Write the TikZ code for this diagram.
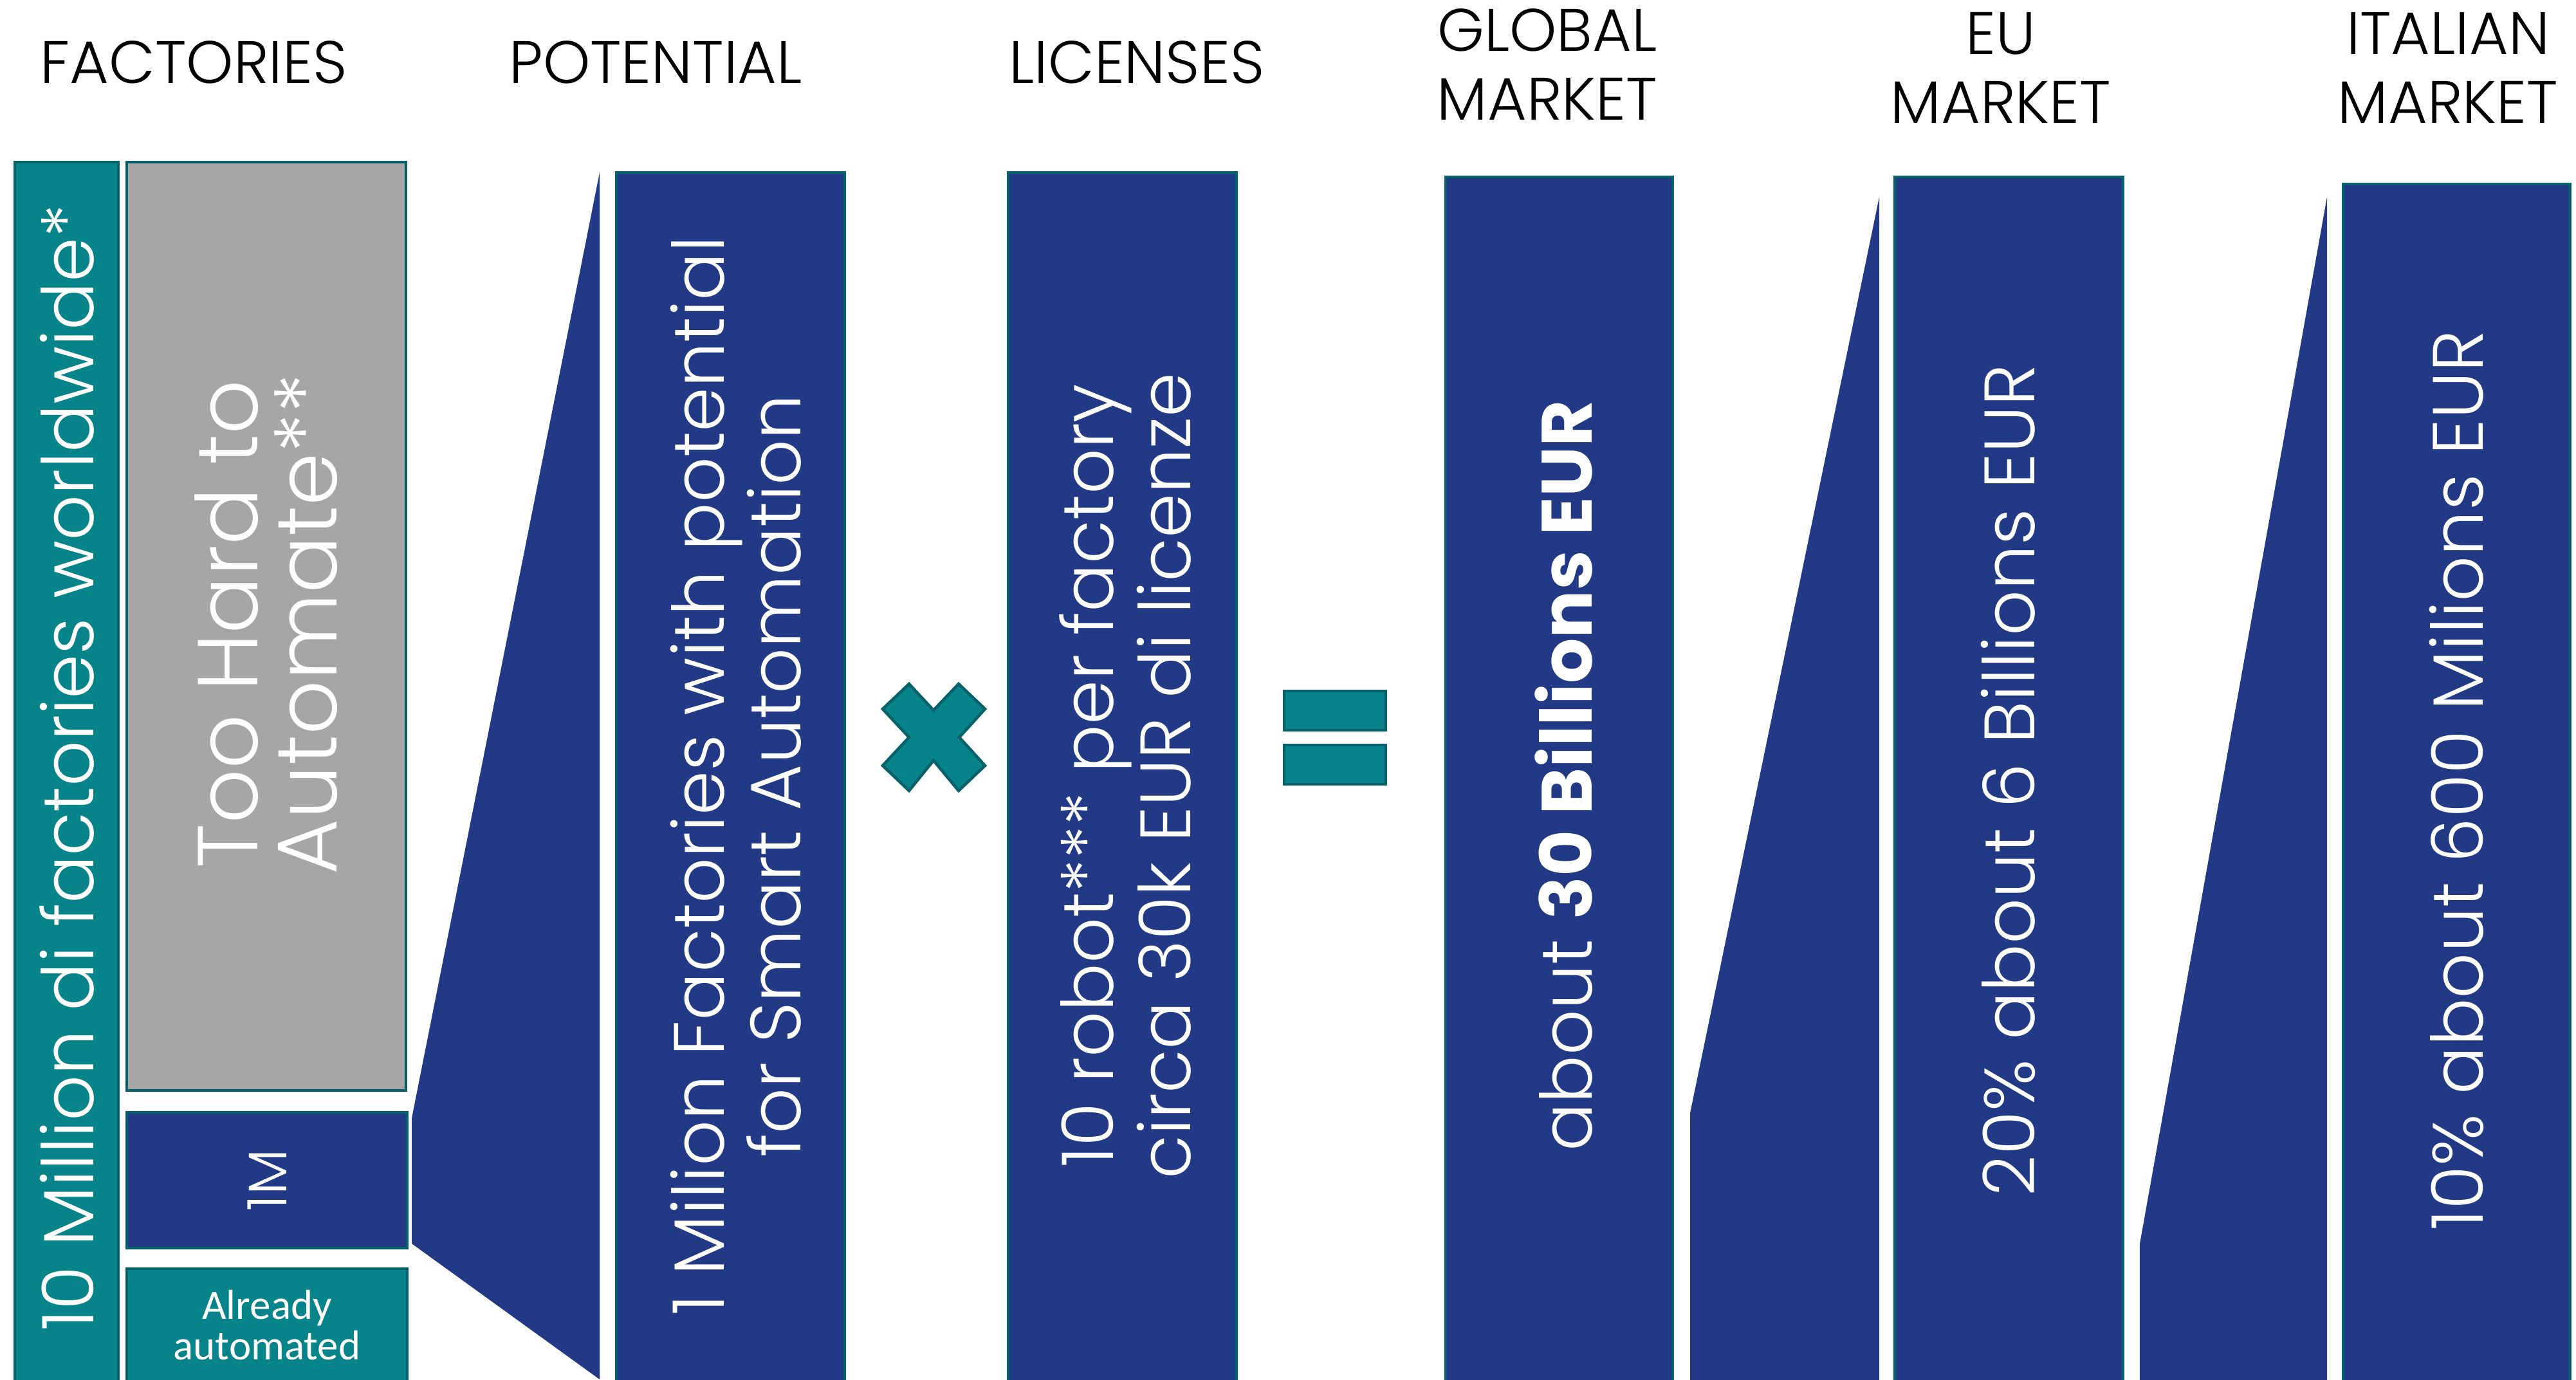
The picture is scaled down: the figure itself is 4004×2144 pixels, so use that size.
\documentclass[tikz,border=0pt]{standalone}
\usepackage{fontspec}
\setmainfont{Poppins Light}[BoldFont={Poppins Bold}]
\newfontfamily\carlito{Carlito}
\usepackage{tikz}
\usetikzlibrary{fit}
\definecolor{tealbox}{HTML}{07838A}
\definecolor{tealline}{HTML}{05616A}
\definecolor{navybox}{HTML}{223985}
\definecolor{greybox}{HTML}{A6A6A6}

\begin{document}
\begin{tikzpicture}[x=0.01cm, y=-0.01cm,
  box/.style={draw=tealline, line width=1.3pt, inner sep=0pt},
  txt/.style={text=white, align=center, rotate=90, font=\fontsize{31.5}{34}\selectfont},
  head/.style={align=center, font=\fontsize{26.5}{30.4}\selectfont}]
\useasboundingbox (0,0) rectangle (4004,2144);
% column titles
\node[head] (hfac) at (301,97) {FACTORIES};
\node[head] (hpot) at (1019,97) {POTENTIAL};
\node[head] (hlic) at (1767,97) {LICENSES};
\node[head] (hglo) at (2405,100) {GLOBAL\\MARKET};
\node[head] (heu) at (3110,105) {EU\\MARKET};
\node[head] (hita) at (3805,105) {ITALIAN\\MARKET};
% factories
\node[box, fill=tealbox, fit={(23,252) (184,2160)}] (fact) {};
\node[txt] (tfact) at (104,1193) {10 Million di factories worldwide*};
\node[box, fill=greybox, fit={(197,252) (631,1695)}] (hard) {};
\node[txt, font=\fontsize{37.6}{35}\selectfont] (thard) at (414,970) {Too Hard to\\Automate**};
\node[box, fill=navybox, fit={(197,1729) (633,1940)}] (onem) {};
\node[txt, font=\fontsize{24}{28}\selectfont] (tonem) at (onem) {1M};
\node[box, fill=tealbox, fit={(197,1972) (633,2160)}] (auto) {};
\node[text=white, align=center, font=\carlito\fontsize{18.5}{17.9}\selectfont] (tauto) at (415,2060) {Already\\automated};
% funnels
\fill[navybox] (640,1738) -- (932,268) -- (932,2144) -- (640,1933) -- cycle;
\fill[navybox] (2627,1730) -- (2921,306) -- (2921,2160) -- (2627,2160) -- cycle;
\fill[navybox] (3326,1933) -- (3617,306) -- (3617,2160) -- (3326,2160) -- cycle;
% potential
\node[box, fill=navybox, fit={(958,268) (1313,2160)}] (pot) {};
\node[txt] (tpot) at (1144,1206) {1 Milion Factories with potential\\for Smart Automation};
% times
\filldraw[fill=tealbox, draw=tealline, line width=1.3pt] (1413,1063) -- (1451,1104) -- (1490,1063) -- (1531,1102) -- (1491,1146) -- (1531,1190) -- (1490,1229) -- (1451,1182) -- (1413,1229) -- (1372,1190) -- (1413,1146) -- (1372,1102) -- cycle;
% licenses
\node[box, fill=navybox, fit={(1567,268) (1922,2160)}] (lic) {};
\node[txt] (tlic) at (1749,1206) {10 robot*** per factory\\circa 30k EUR di licenze};
% equals
\filldraw[fill=tealbox, draw=tealline, line width=1.3pt] (1996,1074) rectangle (2154,1135);
\filldraw[fill=tealbox, draw=tealline, line width=1.3pt] (1996,1158) rectangle (2154,1219);
% markets
\node[box, fill=navybox, fit={(2247,275) (2600,2160)}] (glo) {};
\node[txt] (tglo) at (2431,1206) {about \textbf{30 Billions EUR}};
\node[box, fill=navybox, fit={(2945,275) (3300,2160)}] (eu) {};
\node[txt] (teu) at (3121,1213) {20\% about 6 Billions EUR};
\node[box, fill=navybox, fit={(3642,286) (3995,2160)}] (ita) {};
\node[txt] (tita) at (3818,1213) {10\% about 600 Milions EUR};
\end{tikzpicture}
\end{document}
